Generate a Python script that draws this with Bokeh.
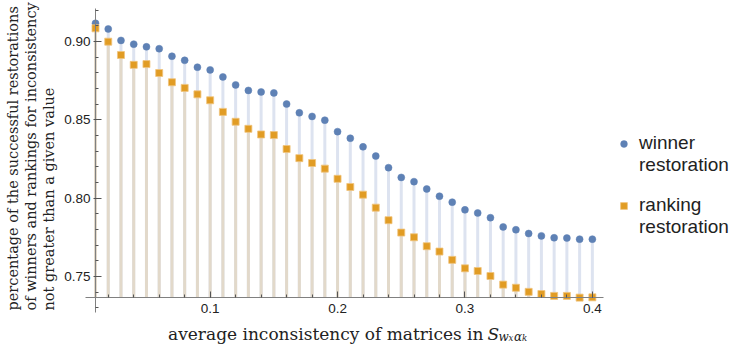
import math
from bokeh.plotting import figure
from bokeh.models import FixedTicker, PrintfTickFormatter, Legend, LegendItem
from bokeh.core.properties import value
from bokeh.embed import file_html
from bokeh.resources import INLINE

# ---------------- data ----------------
inconsistency = [0.01, 0.02, 0.03, 0.04, 0.05, 0.06, 0.07, 0.08, 0.09, 0.10,
                 0.11, 0.12, 0.13, 0.14, 0.15, 0.16, 0.17, 0.18, 0.19, 0.20,
                 0.21, 0.22, 0.23, 0.24, 0.25, 0.26, 0.27, 0.28, 0.29, 0.30,
                 0.31, 0.32, 0.33, 0.34, 0.35, 0.36, 0.37, 0.38, 0.39, 0.40]
winner = [0.9115, 0.9079, 0.9006, 0.8982, 0.8965, 0.8953, 0.8905, 0.8879, 0.8835, 0.8818,
          0.8773, 0.8722, 0.8687, 0.8677, 0.8671, 0.8600, 0.8544, 0.8521, 0.8497, 0.8424,
          0.8382, 0.8327, 0.8268, 0.8194, 0.8132, 0.8105, 0.8058, 0.8012, 0.7974, 0.7925,
          0.7905, 0.7875, 0.7816, 0.7798, 0.7774, 0.7759, 0.7747, 0.7745, 0.7738, 0.7738]
ranking = [0.9083, 0.8998, 0.8913, 0.8850, 0.8855, 0.8798, 0.8739, 0.8703, 0.8662, 0.8624,
           0.8550, 0.8487, 0.8442, 0.8406, 0.8402, 0.8313, 0.8255, 0.8224, 0.8188, 0.8123,
           0.8071, 0.8022, 0.7939, 0.7859, 0.7780, 0.7750, 0.7693, 0.7659, 0.7606, 0.7552,
           0.7535, 0.7503, 0.7448, 0.7428, 0.7402, 0.7388, 0.7376, 0.7376, 0.7365, 0.7367]

x_major_ticks = [0.1, 0.2, 0.3, 0.4]
x_minor_ticks = [0.02, 0.04, 0.06, 0.08, 0.10, 0.12, 0.14, 0.16, 0.18, 0.20,
                 0.22, 0.24, 0.26, 0.28, 0.30, 0.32, 0.34, 0.36, 0.38, 0.40]
y_major_ticks = [0.75, 0.80, 0.85, 0.90]
y_minor_ticks = [0.73, 0.74, 0.75, 0.76, 0.77, 0.78, 0.79, 0.80, 0.81, 0.82,
                 0.83, 0.84, 0.85, 0.86, 0.87, 0.88, 0.89, 0.90, 0.91, 0.92]

ylabel_lines = ["percentage of the successful restorations",
                "of winners and rankings for inconsistency",
                "not greater than a given value"]
xlabel_text = "average inconsistency of matrices in"

# ---------------- layout helpers (pixel -> data) ----------------
W, H = 731, 346
K = 0.95            # vertical squeeze so everything fits the canvas
PXX, PXY = 1274.0, 1650.0 * K


def dx(px):
    return 0.01 + (px - 95.0) / PXX


def dy(py):
    return 0.75 + (290.5 * K - py) / PXY


AXIS_Y = 0.7365
AXIS_X = 0.01

p = figure(width=W, height=H, x_range=(dx(0), dx(W)), y_range=(dy(H), dy(0)),
           output_backend="svg", toolbar_location=None, title=None,
           min_border=0, min_border_left=0, min_border_right=0,
           min_border_top=0, min_border_bottom=0)
p.outline_line_color = None
p.grid.visible = False
p.background_fill_color = "white"
p.border_fill_color = "white"

BLUE = "#5e81b5"
ORANGE = "#e19c24"

# stems (filling to axis)
p.segment(x0=inconsistency, y0=[AXIS_Y] * len(inconsistency), x1=inconsistency, y1=winner,
          line_color="#dde3f0", line_width=3)
p.segment(x0=inconsistency, y0=[AXIS_Y] * len(inconsistency), x1=inconsistency, y1=ranking,
          line_color="#e2d9ca", line_width=3)

r_blue = p.scatter(inconsistency, winner, marker="circle", size=7,
                   fill_color=BLUE, line_color=BLUE, line_width=0.5)
r_orange = p.scatter(inconsistency, ranking, marker="square", size=7,
                     fill_color=ORANGE, line_color="#f0c47e", line_width=0.8)

# axes placed at the data origin
xa = p.xaxis[0]
ya = p.yaxis[0]
xa.fixed_location = AXIS_Y
ya.fixed_location = AXIS_X
xa.bounds = (dx(85), dx(603))
ya.bounds = (0.7273, 0.9210)
xa.ticker = FixedTicker(ticks=x_major_ticks, minor_ticks=x_minor_ticks)
ya.ticker = FixedTicker(ticks=y_major_ticks, minor_ticks=y_minor_ticks)
xa.formatter = PrintfTickFormatter(format="%.1f")
ya.formatter = PrintfTickFormatter(format="%.2f")
for ax in (xa, ya):
    ax.axis_line_color = "#808080"
    ax.axis_line_width = 1
    ax.major_tick_line_color = "#555555"
    ax.minor_tick_line_color = "#555555"
    ax.major_label_text_font = "Liberation Sans"
    ax.major_label_text_font_size = "13.5px"
    ax.major_label_text_color = "#222222"
xa.major_tick_in = 6
xa.major_tick_out = 0
xa.minor_tick_in = 3
xa.minor_tick_out = 0
xa.major_label_standoff = 6
ya.major_tick_in = 6
ya.major_tick_out = 2
ya.minor_tick_in = 3
ya.minor_tick_out = 0
ya.major_label_standoff = 3

SERIF = value("DejaVu Serif")
# y axis label (three lines, rotated)
p.text(x=[dx(12), dx(30), dx(48)], y=[dy(310)] * 3, text=ylabel_lines,
       angle=math.pi / 2, text_align="left", text_baseline="middle",
       text_font=SERIF, text_font_size="14.5px", text_color="#222222")

# x axis label with math subscript
BASE = 333.5
p.text(x=[dx(483)], y=[dy(BASE)], text=[xlabel_text], text_align="right",
       text_baseline="alphabetic", text_font=SERIF, text_font_size="17px", text_color="#222222")
p.text(x=[dx(487)], y=[dy(BASE)], text=["S"], text_align="left", text_baseline="alphabetic",
       text_font=SERIF, text_font_style="italic", text_font_size="17px", text_color="#222222")
p.text(x=[dx(498), dx(513.5)], y=[dy(BASE + 2.5)] * 2, text=["w", "α"], text_align="left",
       text_baseline="alphabetic", text_font=SERIF, text_font_style="italic",
       text_font_size="12px", text_color="#222222")
p.text(x=[dx(508), dx(521.5)], y=[dy(BASE + 4)] * 2, text=["x", "k"], text_align="left",
       text_baseline="alphabetic", text_font=SERIF, text_font_style="italic",
       text_font_size="8.5px", text_color="#222222")


def make_legend(items, loc):
    return Legend(items=items, location=loc, orientation="vertical",
                  label_text_font="Liberation Sans", label_text_font_size="19px",
                  label_text_color="#222222", glyph_width=17, glyph_height=21,
                  label_height=21, label_standoff=7, spacing=0, padding=0, margin=0,
                  border_line_color=None, background_fill_alpha=0)


leg1 = make_legend([LegendItem(label="winner", renderers=[r_blue]),
                    LegendItem(label="restoration", renderers=[])], (615, 170))
leg2 = make_legend([LegendItem(label="ranking", renderers=[r_orange]),
                    LegendItem(label="restoration", renderers=[])], (615, 108))
p.add_layout(leg1)
p.add_layout(leg2)

open("out.html", "w").write(file_html(p, INLINE))
